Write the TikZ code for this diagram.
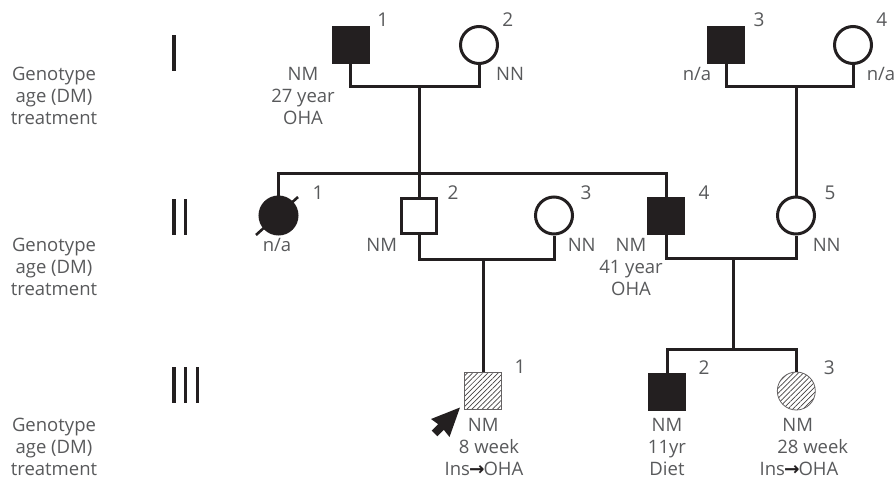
\documentclass[tikz,border=0pt]{standalone}
\usepackage{fontspec}
\setmainfont{Open Sans}
\newfontfamily\arrowfont{DejaVu Sans}
\usetikzlibrary{patterns.meta}
\definecolor{ink}{HTML}{231F20}
\definecolor{txt}{HTML}{58595B}
\newcommand{\insarrow}{Ins{\arrowfont\bfseries\color{ink}\kern-1pt→\kern-1pt}OHA}
\begin{document}
\begin{tikzpicture}[x=1pt,y=-1pt,
 male/.style={rectangle, minimum size=35pt, inner sep=0pt, draw=ink, line width=3pt},
 female/.style={circle, minimum size=37pt, inner sep=0pt, draw=ink, line width=3pt},
 aff/.style={fill=ink},
 hatch/.style={pattern={Lines[angle=45,distance=3.6pt,line width=0.7pt]}, pattern color=ink!85, line width=0.8pt, draw=ink!70},
 lab/.style={text=txt, font=\fontsize{18.5}{22}\selectfont, align=center, inner sep=0pt},
 num/.style={text=txt, font=\fontsize{19}{21}\selectfont, inner sep=0pt},
 link/.style={line width=3pt, draw=ink},
 genbar/.style={line width=3.3pt, draw=ink}
]
\useasboundingbox (0,0) rectangle (894,479);

% generation numerals
\draw[genbar] (174,35) -- (174,71);
\draw[genbar] (174,199) -- (174,235);
\draw[genbar] (185.7,199) -- (185.7,235);
\draw[genbar] (174,367) -- (174,403);
\draw[genbar] (185.7,367) -- (185.7,403);
\draw[genbar] (197.3,367) -- (197.3,403);

% row legends
\node[lab] (legI) at (54,96) {Genotype\\age (DM)\\treatment};
\node[lab] (legII) at (54,267) {Genotype\\age (DM)\\treatment};
\node[lab] (legIII) at (54,447) {Genotype\\age (DM)\\treatment};

% individuals
\node[male,aff] (I1) at (350.5,45) {};
\node[female] (I2) at (479,45) {};
\node[male,aff] (I3) at (726,45) {};
\node[female] (I4) at (853,45) {};
\node[female,aff] (II1) at (278.5,215.5) {};
\node[male] (II2) at (419.3,215.5) {};
\node[female] (II3) at (554,215.5) {};
\node[male,aff] (II4) at (666,215.5) {};
\node[female] (II5) at (796,215.5) {};
\node[male,hatch,minimum size=37pt] (III1) at (483.3,390.5) {};
\node[male,aff] (III2) at (667,391.5) {};
\node[female,hatch,minimum size=38pt] (III3) at (796.3,391) {};

% deceased slash
\draw[link,line width=2.6pt] ([shift={(-22.5,19.5)}]II1.center) -- ([shift={(19.5,-18.5)}]II1.center);

% connectors
\coordinate (m1) at (419.3,86);
\coordinate (m2) at (796,86);
\coordinate (sib2) at (419.3,173.3);
\coordinate (m3) at (483.3,259);
\coordinate (m4) at (733.3,258.5);
\coordinate (sib3) at (733.3,349.3);
\draw[link] (I1.south) |- (m1) -| (I2.south);
\draw[link] (m1) -- (II2.north);
\draw[link] (I3.south) |- (m2) -| (I4.south);
\draw[link] (m2) -- (II5.north);
\draw[link] (II1.north) |- (sib2) -| (II4.north);
\draw[link] (II2.south) |- (m3) -| (II3.south);
\draw[link] (m3) -- (III1.north);
\draw[link] (II4.south) |- (m4) -| (II5.south);
\draw[link] (m4) -- (sib3);
\draw[link] (III2.north) |- (sib3) -| (III3.north);

% proband arrow
\fill[ink] (460,407.5) -- (431,419) -- (438.2,424.2) -- (431.7,430.7) -- (437.3,436.3) -- (443.8,429.8) -- (449.5,437) -- cycle;

% numbers
\node[num] (nI1) at (382.7,20) {1};
\node[num] (nI2) at (507.7,20) {2};
\node[num] (nI3) at (759,20) {3};
\node[num] (nI4) at (881.7,20) {4};
\node[num] (nII1) at (318,193) {1};
\node[num] (nII2) at (453,193) {2};
\node[num] (nII3) at (586,193) {3};
\node[num] (nII4) at (704,193) {4};
\node[num] (nII5) at (830,193) {5};
\node[num] (nIII1) at (520,366.7) {1};
\node[num] (nIII2) at (704,367.7) {2};
\node[num] (nIII3) at (829.3,367.7) {3};

% labels generation I
\node[lab] (tI1) at (303,96) {NM\\27 year\\OHA};
\node[lab] (tI2) at (510,74) {NN};
\node[lab] (tI3) at (697,74) {n/a};
\node[lab] (tI4) at (881,74) {n/a};
% generation II
\node[lab] (tII1) at (277,245) {n/a};
\node[lab] (tII2) at (381.7,245) {NM};
\node[lab] (tII3) at (581.7,245) {NN};
\node[lab] (tII4) at (631,266.5) {NM\\41 year\\OHA};
\node[lab] (tII5) at (826.7,245) {NN};
% generation III
\node[lab] (tIII1a) at (483.3,425) {NM};
\node[lab] (tIII1b) at (489,446.7) {8 week};
\node[lab] (tIII1c) at (484,469) {\insarrow};
\node[lab] (tIII2) at (667,447) {NM\\11yr\\Diet};
\node[lab] (tIII3a) at (797.7,425) {NM};
\node[lab] (tIII3b) at (812.7,447) {28 week};
\node[lab] (tIII3c) at (799,469) {\insarrow};
\end{tikzpicture}
\end{document}
